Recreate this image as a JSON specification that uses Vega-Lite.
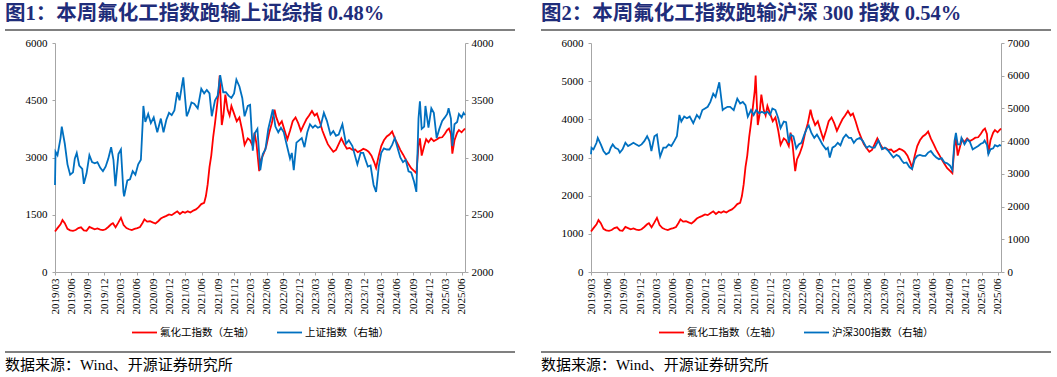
{
  "$schema": "https://vega.github.io/schema/vega-lite/v6.json",
  "padding": {"left": 5, "top": 3, "right": 3, "bottom": 3},
  "background": "white",
  "config": {
    "view": {"stroke": null},
    "font": "Liberation Serif, Noto Sans CJK SC",
    "axis": {"grid": false, "domainColor": "#A6A6A6", "tickColor": "#A6A6A6", "labelColor": "#000000", "labelFont": "Liberation Serif", "labelFontSize": 11, "tickSize": 3, "labelPadding": 3, "title": null},
    "axisX": {"labelOverlap": false, "labelAngle": 270, "format": "%Y/%m"},
    "axisY": {"format": "d"},
    "legend": {"orient": "bottom", "direction": "horizontal", "title": null, "symbolType": "stroke", "symbolSize": 625, "symbolStrokeWidth": 2, "labelFont": "Noto Sans CJK SC", "labelFontSize": 10.5, "labelColor": "#000000", "columnPadding": 18, "labelOffset": 2, "offset": 4, "layout": {"bottom": {"anchor": "middle"}}},
    "line": {"strokeWidth": 1.8, "interpolate": "linear"}
  },
  "datasets": {
    "fluor": [
      {"d":"2019/03/01","v":1060},{"d":"2019/03/15","v":1150},{"d":"2019/04/01","v":1250},{"d":"2019/04/12","v":1360},{"d":"2019/04/25","v":1280},{"d":"2019/05/10","v":1130},{"d":"2019/05/25","v":1090},{"d":"2019/06/10","v":1080},{"d":"2019/06/25","v":1100},{"d":"2019/07/10","v":1150},{"d":"2019/07/25","v":1170},{"d":"2019/08/10","v":1090},{"d":"2019/08/25","v":1080},{"d":"2019/09/10","v":1180},{"d":"2019/09/25","v":1150},{"d":"2019/10/10","v":1120},{"d":"2019/10/25","v":1140},{"d":"2019/11/10","v":1110},{"d":"2019/11/25","v":1100},{"d":"2019/12/10","v":1120},{"d":"2019/12/25","v":1180},
      {"d":"2020/01/10","v":1250},{"d":"2020/01/20","v":1280},{"d":"2020/02/04","v":1170},{"d":"2020/02/20","v":1300},{"d":"2020/03/05","v":1420},{"d":"2020/03/20","v":1230},{"d":"2020/04/05","v":1150},{"d":"2020/04/20","v":1120},{"d":"2020/05/05","v":1100},{"d":"2020/05/20","v":1130},{"d":"2020/06/05","v":1150},{"d":"2020/06/20","v":1180},{"d":"2020/07/05","v":1290},{"d":"2020/07/15","v":1380},{"d":"2020/07/30","v":1320},{"d":"2020/08/15","v":1330},{"d":"2020/08/30","v":1300},{"d":"2020/09/15","v":1270},{"d":"2020/09/30","v":1330},{"d":"2020/10/15","v":1400},{"d":"2020/10/30","v":1440},{"d":"2020/11/15","v":1470},{"d":"2020/11/30","v":1510},{"d":"2020/12/15","v":1490},{"d":"2020/12/30","v":1540},
      {"d":"2021/01/15","v":1590},{"d":"2021/01/30","v":1520},{"d":"2021/02/15","v":1580},{"d":"2021/02/28","v":1550},{"d":"2021/03/15","v":1590},{"d":"2021/03/30","v":1560},{"d":"2021/04/15","v":1610},{"d":"2021/04/30","v":1640},{"d":"2021/05/15","v":1700},{"d":"2021/05/30","v":1780},{"d":"2021/06/15","v":1810},{"d":"2021/06/25","v":1990},{"d":"2021/07/05","v":2300},{"d":"2021/07/15","v":2750},{"d":"2021/07/25","v":3050},{"d":"2021/08/05","v":3550},{"d":"2021/08/15","v":3900},{"d":"2021/08/25","v":4300},{"d":"2021/09/05","v":4750},{"d":"2021/09/10","v":5150},{"d":"2021/09/15","v":4600},{"d":"2021/09/22","v":3850},{"d":"2021/10/01","v":4100},{"d":"2021/10/12","v":4650},{"d":"2021/10/25","v":4250},{"d":"2021/11/05","v":4100},{"d":"2021/11/15","v":4350},{"d":"2021/11/30","v":4150},{"d":"2021/12/15","v":3950},{"d":"2021/12/30","v":4050},
      {"d":"2022/01/15","v":3700},{"d":"2022/01/28","v":3330},{"d":"2022/02/15","v":3500},{"d":"2022/02/28","v":3450},{"d":"2022/03/15","v":3300},{"d":"2022/03/25","v":3650},{"d":"2022/04/05","v":3350},{"d":"2022/04/20","v":2640},{"d":"2022/04/30","v":2950},{"d":"2022/05/15","v":3100},{"d":"2022/05/30","v":3300},{"d":"2022/06/15","v":3650},{"d":"2022/06/30","v":3900},{"d":"2022/07/15","v":4250},{"d":"2022/07/25","v":4050},{"d":"2022/08/10","v":3850},{"d":"2022/08/25","v":3950},{"d":"2022/09/10","v":3700},{"d":"2022/09/25","v":3480},{"d":"2022/10/10","v":3700},{"d":"2022/10/25","v":3950},{"d":"2022/11/10","v":4050},{"d":"2022/11/25","v":3900},{"d":"2022/12/10","v":3700},{"d":"2022/12/25","v":3850},
      {"d":"2023/01/10","v":4000},{"d":"2023/01/25","v":4100},{"d":"2023/02/10","v":4220},{"d":"2023/02/25","v":4100},{"d":"2023/03/10","v":4150},{"d":"2023/03/25","v":3950},{"d":"2023/04/10","v":3700},{"d":"2023/04/25","v":3520},{"d":"2023/05/10","v":3350},{"d":"2023/05/25","v":3250},{"d":"2023/06/10","v":3150},{"d":"2023/06/25","v":3200},{"d":"2023/07/10","v":3350},{"d":"2023/07/25","v":3500},{"d":"2023/08/10","v":3350},{"d":"2023/08/25","v":3230},{"d":"2023/09/10","v":3250},{"d":"2023/09/25","v":3200},{"d":"2023/10/10","v":3210},{"d":"2023/10/25","v":3140},{"d":"2023/11/10","v":3180},{"d":"2023/11/25","v":3230},{"d":"2023/12/10","v":3200},{"d":"2023/12/25","v":3150},
      {"d":"2024/01/10","v":3050},{"d":"2024/01/25","v":2880},{"d":"2024/02/05","v":2730},{"d":"2024/02/20","v":3050},{"d":"2024/03/05","v":3300},{"d":"2024/03/20","v":3450},{"d":"2024/04/05","v":3550},{"d":"2024/04/20","v":3600},{"d":"2024/05/05","v":3680},{"d":"2024/05/20","v":3500},{"d":"2024/06/05","v":3350},{"d":"2024/06/20","v":3200},{"d":"2024/07/05","v":3080},{"d":"2024/07/20","v":2950},{"d":"2024/08/05","v":2830},{"d":"2024/08/20","v":2720},{"d":"2024/09/05","v":2650},{"d":"2024/09/18","v":2590},{"d":"2024/09/30","v":3300},{"d":"2024/10/08","v":3500},{"d":"2024/10/18","v":3050},{"d":"2024/11/01","v":3300},{"d":"2024/11/12","v":3480},{"d":"2024/11/25","v":3400},{"d":"2024/12/10","v":3500},{"d":"2024/12/25","v":3430},
      {"d":"2025/01/10","v":3470},{"d":"2025/01/25","v":3520},{"d":"2025/02/10","v":3530},{"d":"2025/02/25","v":3620},{"d":"2025/03/10","v":3720},{"d":"2025/03/20","v":3760},{"d":"2025/03/31","v":3620},{"d":"2025/04/08","v":3100},{"d":"2025/04/20","v":3450},{"d":"2025/05/05","v":3650},{"d":"2025/05/15","v":3720},{"d":"2025/05/30","v":3660},{"d":"2025/06/10","v":3720},{"d":"2025/06/18","v":3760}
    ],
    "sse": [
      {"d":"2019/03/01","v":2760},{"d":"2019/03/04","v":3050},{"d":"2019/03/15","v":3020},{"d":"2019/04/01","v":3170},{"d":"2019/04/08","v":3270},{"d":"2019/04/25","v":3120},{"d":"2019/05/10","v":2940},{"d":"2019/05/25","v":2850},{"d":"2019/06/10","v":2870},{"d":"2019/06/20","v":2990},{"d":"2019/07/01","v":3040},{"d":"2019/07/15","v":2930},{"d":"2019/08/01","v":2900},{"d":"2019/08/10","v":2770},{"d":"2019/08/25","v":2860},{"d":"2019/09/10","v":3020},{"d":"2019/09/25","v":2960},{"d":"2019/10/10","v":2950},{"d":"2019/10/25","v":2960},{"d":"2019/11/10","v":2910},{"d":"2019/11/25","v":2880},{"d":"2019/12/10","v":2920},{"d":"2019/12/25","v":2990},
      {"d":"2020/01/10","v":3090},{"d":"2020/01/23","v":2980},{"d":"2020/02/03","v":2750},{"d":"2020/02/20","v":3030},{"d":"2020/03/05","v":3070},{"d":"2020/03/19","v":2700},{"d":"2020/03/23","v":2660},{"d":"2020/04/10","v":2800},{"d":"2020/04/25","v":2810},{"d":"2020/05/10","v":2880},{"d":"2020/05/25","v":2850},{"d":"2020/06/10","v":2940},{"d":"2020/06/25","v":2980},{"d":"2020/07/06","v":3330},{"d":"2020/07/09","v":3450},{"d":"2020/07/20","v":3310},{"d":"2020/08/05","v":3380},{"d":"2020/08/20","v":3300},{"d":"2020/09/05","v":3350},{"d":"2020/09/25","v":3220},{"d":"2020/10/15","v":3340},{"d":"2020/10/30","v":3220},{"d":"2020/11/15","v":3330},{"d":"2020/11/30","v":3390},{"d":"2020/12/15","v":3370},{"d":"2020/12/30","v":3410},
      {"d":"2021/01/15","v":3570},{"d":"2021/01/28","v":3500},{"d":"2021/02/18","v":3700},{"d":"2021/03/09","v":3360},{"d":"2021/03/20","v":3400},{"d":"2021/04/05","v":3480},{"d":"2021/04/20","v":3470},{"d":"2021/05/10","v":3430},{"d":"2021/05/30","v":3600},{"d":"2021/06/15","v":3560},{"d":"2021/06/30","v":3590},{"d":"2021/07/15","v":3560},{"d":"2021/07/28","v":3360},{"d":"2021/08/15","v":3500},{"d":"2021/08/30","v":3540},{"d":"2021/09/13","v":3720},{"d":"2021/09/30","v":3570},{"d":"2021/10/15","v":3570},{"d":"2021/10/30","v":3540},{"d":"2021/11/15","v":3520},{"d":"2021/11/30","v":3560},{"d":"2021/12/13","v":3680},{"d":"2021/12/30","v":3620},
      {"d":"2022/01/15","v":3520},{"d":"2022/01/28","v":3360},{"d":"2022/02/15","v":3450},{"d":"2022/02/28","v":3460},{"d":"2022/03/15","v":3060},{"d":"2022/03/25","v":3210},{"d":"2022/04/10","v":3250},{"d":"2022/04/26","v":2890},{"d":"2022/05/10","v":3030},{"d":"2022/05/25","v":3070},{"d":"2022/06/10","v":3250},{"d":"2022/06/25","v":3350},{"d":"2022/07/05","v":3420},{"d":"2022/07/20","v":3270},{"d":"2022/08/05","v":3220},{"d":"2022/08/20","v":3260},{"d":"2022/09/05","v":3220},{"d":"2022/09/20","v":3120},{"d":"2022/10/10","v":2990},{"d":"2022/10/20","v":3040},{"d":"2022/10/31","v":2890},{"d":"2022/11/15","v":3130},{"d":"2022/11/30","v":3150},{"d":"2022/12/15","v":3170},{"d":"2022/12/30","v":3090},
      {"d":"2023/01/15","v":3220},{"d":"2023/01/30","v":3290},{"d":"2023/02/15","v":3260},{"d":"2023/02/28","v":3280},{"d":"2023/03/15","v":3260},{"d":"2023/03/30","v":3270},{"d":"2023/04/18","v":3390},{"d":"2023/05/05","v":3320},{"d":"2023/05/25","v":3200},{"d":"2023/06/10","v":3230},{"d":"2023/06/25","v":3190},{"d":"2023/07/10","v":3200},{"d":"2023/07/31","v":3290},{"d":"2023/08/20","v":3120},{"d":"2023/09/05","v":3150},{"d":"2023/09/25","v":3100},{"d":"2023/10/23","v":2940},{"d":"2023/11/10","v":3040},{"d":"2023/11/25","v":3040},{"d":"2023/12/10","v":2970},{"d":"2023/12/21","v":2920},
      {"d":"2024/01/05","v":2930},{"d":"2024/01/22","v":2760},{"d":"2024/02/05","v":2700},{"d":"2024/02/20","v":2920},{"d":"2024/03/05","v":3040},{"d":"2024/03/20","v":3080},{"d":"2024/04/05","v":3070},{"d":"2024/04/20","v":3070},{"d":"2024/05/05","v":3110},{"d":"2024/05/20","v":3170},{"d":"2024/06/05","v":3080},{"d":"2024/06/20","v":3000},{"d":"2024/07/05","v":2960},{"d":"2024/07/20","v":2980},{"d":"2024/08/05","v":2880},{"d":"2024/08/20","v":2870},{"d":"2024/09/05","v":2790},{"d":"2024/09/18","v":2700},{"d":"2024/09/30","v":3340},{"d":"2024/10/08","v":3490},{"d":"2024/10/18","v":3250},{"d":"2024/11/01","v":3270},{"d":"2024/11/08","v":3450},{"d":"2024/11/25","v":3260},{"d":"2024/12/11","v":3430},{"d":"2024/12/25","v":3390},
      {"d":"2025/01/10","v":3170},{"d":"2025/01/25","v":3250},{"d":"2025/02/10","v":3320},{"d":"2025/02/25","v":3350},{"d":"2025/03/10","v":3380},{"d":"2025/03/18","v":3430},{"d":"2025/03/31","v":3340},{"d":"2025/04/08","v":3100},{"d":"2025/04/20","v":3290},{"d":"2025/05/05","v":3310},{"d":"2025/05/15","v":3380},{"d":"2025/05/30","v":3350},{"d":"2025/06/10","v":3390},{"d":"2025/06/18","v":3370}
    ],
    "csi": [
      {"d":"2019/03/01","v":3600},{"d":"2019/03/04","v":3800},{"d":"2019/03/15","v":3750},{"d":"2019/04/01","v":3950},{"d":"2019/04/08","v":4100},{"d":"2019/04/25","v":3900},{"d":"2019/05/10","v":3700},{"d":"2019/05/25","v":3600},{"d":"2019/06/10","v":3650},{"d":"2019/06/20","v":3800},{"d":"2019/07/01","v":3900},{"d":"2019/07/15","v":3800},{"d":"2019/08/01","v":3750},{"d":"2019/08/10","v":3650},{"d":"2019/08/25","v":3750},{"d":"2019/09/10","v":3950},{"d":"2019/09/25","v":3850},{"d":"2019/10/10","v":3900},{"d":"2019/10/25","v":3950},{"d":"2019/11/10","v":3900},{"d":"2019/11/25","v":3850},{"d":"2019/12/10","v":3900},{"d":"2019/12/25","v":4000},
      {"d":"2020/01/10","v":4150},{"d":"2020/01/23","v":4000},{"d":"2020/02/03","v":3700},{"d":"2020/02/20","v":4150},{"d":"2020/03/05","v":4200},{"d":"2020/03/19","v":3650},{"d":"2020/03/23","v":3530},{"d":"2020/04/10","v":3800},{"d":"2020/04/25","v":3800},{"d":"2020/05/10","v":3900},{"d":"2020/05/25","v":3850},{"d":"2020/06/10","v":4000},{"d":"2020/06/25","v":4150},{"d":"2020/07/06","v":4650},{"d":"2020/07/09","v":4800},{"d":"2020/07/20","v":4600},{"d":"2020/08/05","v":4750},{"d":"2020/08/20","v":4700},{"d":"2020/09/05","v":4750},{"d":"2020/09/25","v":4550},{"d":"2020/10/15","v":4800},{"d":"2020/10/30","v":4700},{"d":"2020/11/15","v":4950},{"d":"2020/11/30","v":5000},{"d":"2020/12/15","v":5050},{"d":"2020/12/30","v":5200},
      {"d":"2021/01/15","v":5450},{"d":"2021/01/28","v":5350},{"d":"2021/02/18","v":5800},{"d":"2021/03/09","v":4950},{"d":"2021/03/20","v":5000},{"d":"2021/04/05","v":5050},{"d":"2021/04/20","v":5050},{"d":"2021/05/10","v":4950},{"d":"2021/05/30","v":5300},{"d":"2021/06/15","v":5150},{"d":"2021/06/30","v":5200},{"d":"2021/07/15","v":5100},{"d":"2021/07/28","v":4750},{"d":"2021/08/15","v":4950},{"d":"2021/08/30","v":4800},{"d":"2021/09/13","v":4950},{"d":"2021/09/30","v":4850},{"d":"2021/10/15","v":4900},{"d":"2021/10/30","v":4850},{"d":"2021/11/15","v":4900},{"d":"2021/11/30","v":4800},{"d":"2021/12/13","v":5000},{"d":"2021/12/30","v":4950},
      {"d":"2022/01/15","v":4700},{"d":"2022/01/28","v":4400},{"d":"2022/02/15","v":4600},{"d":"2022/02/28","v":4580},{"d":"2022/03/15","v":3950},{"d":"2022/03/25","v":4200},{"d":"2022/04/10","v":4150},{"d":"2022/04/26","v":3780},{"d":"2022/05/10","v":3900},{"d":"2022/05/25","v":3950},{"d":"2022/06/10","v":4200},{"d":"2022/06/25","v":4400},{"d":"2022/07/05","v":4480},{"d":"2022/07/20","v":4250},{"d":"2022/08/05","v":4100},{"d":"2022/08/20","v":4200},{"d":"2022/09/05","v":4050},{"d":"2022/09/20","v":3900},{"d":"2022/10/10","v":3750},{"d":"2022/10/20","v":3800},{"d":"2022/10/31","v":3500},{"d":"2022/11/15","v":3800},{"d":"2022/11/30","v":3850},{"d":"2022/12/15","v":3950},{"d":"2022/12/30","v":3870},
      {"d":"2023/01/15","v":4100},{"d":"2023/01/30","v":4200},{"d":"2023/02/15","v":4100},{"d":"2023/02/28","v":4100},{"d":"2023/03/15","v":3950},{"d":"2023/03/30","v":4050},{"d":"2023/04/18","v":4100},{"d":"2023/05/05","v":4000},{"d":"2023/05/25","v":3800},{"d":"2023/06/10","v":3850},{"d":"2023/06/25","v":3800},{"d":"2023/07/10","v":3800},{"d":"2023/07/31","v":4020},{"d":"2023/08/20","v":3750},{"d":"2023/09/05","v":3800},{"d":"2023/09/25","v":3700},{"d":"2023/10/23","v":3500},{"d":"2023/11/10","v":3580},{"d":"2023/11/25","v":3530},{"d":"2023/12/10","v":3400},{"d":"2023/12/21","v":3330},
      {"d":"2024/01/05","v":3350},{"d":"2024/01/22","v":3200},{"d":"2024/02/05","v":3150},{"d":"2024/02/20","v":3450},{"d":"2024/03/05","v":3550},{"d":"2024/03/20","v":3580},{"d":"2024/04/05","v":3550},{"d":"2024/04/20","v":3550},{"d":"2024/05/05","v":3650},{"d":"2024/05/20","v":3700},{"d":"2024/06/05","v":3580},{"d":"2024/06/20","v":3500},{"d":"2024/07/05","v":3450},{"d":"2024/07/20","v":3480},{"d":"2024/08/05","v":3350},{"d":"2024/08/20","v":3320},{"d":"2024/09/05","v":3250},{"d":"2024/09/18","v":3110},{"d":"2024/09/30","v":4000},{"d":"2024/10/08","v":4250},{"d":"2024/10/18","v":3900},{"d":"2024/11/01","v":3900},{"d":"2024/11/08","v":4100},{"d":"2024/11/25","v":3900},{"d":"2024/12/11","v":4050},{"d":"2024/12/25","v":3980},
      {"d":"2025/01/10","v":3750},{"d":"2025/01/25","v":3800},{"d":"2025/02/10","v":3850},{"d":"2025/02/25","v":3920},{"d":"2025/03/10","v":3950},{"d":"2025/03/18","v":4020},{"d":"2025/03/31","v":3890},{"d":"2025/04/08","v":3600},{"d":"2025/04/20","v":3750},{"d":"2025/05/05","v":3780},{"d":"2025/05/15","v":3880},{"d":"2025/05/30","v":3840},{"d":"2025/06/10","v":3880},{"d":"2025/06/18","v":3860}
    ]
  },
  "spacing": 26,
  "resolve": {"scale": {"color": "independent"}, "legend": {"color": "independent"}},
  "hconcat": [
    {
      "spacing": 11,
      "resolve": {"scale": {"color": "independent"}, "legend": {"color": "independent"}},
      "vconcat": [
        {
          "spacing": 12, "bounds": "flush", "center": true,
          "resolve": {"scale": {"color": "independent"}, "legend": {"color": "independent"}},
          "vconcat": [
            {
              "width": 510, "height": 2,
              "view": {"fill": "#808080", "stroke": null},
              "data": {"values": [{}]},
              "mark": {"type": "point", "opacity": 0},
              "title": {"text": "图1：本周氟化工指数跑输上证综指 0.48%", "anchor": "start", "fontSize": 20.5, "fontWeight": "bold", "color": "#1F2D7A", "offset": 3, "font": "Liberation Serif, Noto Sans CJK SC"}
            },
            {
              "width": 410, "height": 229,
              "encoding": {
                "x": {"field": "d", "type": "temporal",
                  "scale": {"domain": [{"year": 2019, "month": 3, "date": 1}, {"year": 2025, "month": 6, "date": 18}]},
                  "axis": {"format": "%Y/%m", "labelAngle": 270, "labelOverlap": false,
                    "values": [{"year":2019,"month":3,"date":1},{"year":2019,"month":6,"date":1},{"year":2019,"month":9,"date":1},{"year":2019,"month":12,"date":1},{"year":2020,"month":3,"date":1},{"year":2020,"month":6,"date":1},{"year":2020,"month":9,"date":1},{"year":2020,"month":12,"date":1},{"year":2021,"month":3,"date":1},{"year":2021,"month":6,"date":1},{"year":2021,"month":9,"date":1},{"year":2021,"month":12,"date":1},{"year":2022,"month":3,"date":1},{"year":2022,"month":6,"date":1},{"year":2022,"month":9,"date":1},{"year":2022,"month":12,"date":1},{"year":2023,"month":3,"date":1},{"year":2023,"month":6,"date":1},{"year":2023,"month":9,"date":1},{"year":2023,"month":12,"date":1},{"year":2024,"month":3,"date":1},{"year":2024,"month":6,"date":1},{"year":2024,"month":9,"date":1},{"year":2024,"month":12,"date":1},{"year":2025,"month":3,"date":1},{"year":2025,"month":6,"date":1}]}}
              },
              "layer": [
                {
                  "data": {"name": "fluor"},
                  "mark": {"type": "line"},
                  "encoding": {
                    "y": {"field": "v", "type": "quantitative", "scale": {"domain": [0, 6000], "nice": false}, "axis": {"values": [0, 1500, 3000, 4500, 6000], "labelPadding": 5}},
                    "color": {"datum": "氟化工指数（左轴）", "type": "nominal", "scale": {"domain": ["氟化工指数（左轴）", "上证指数（右轴）"], "range": ["#FF0000", "#0070C0"]}}
                  }
                },
                {
                  "data": {"name": "sse"},
                  "mark": {"type": "line"},
                  "encoding": {
                    "y": {"field": "v", "type": "quantitative", "scale": {"domain": [2000, 4000], "nice": false}, "axis": {"orient": "right", "values": [2000, 2500, 3000, 3500, 4000]}},
                    "color": {"datum": "上证指数（右轴）", "type": "nominal"}
                  }
                }
              ],
              "resolve": {"scale": {"y": "independent"}}
            }
          ]
        },
        {
          "width": 510, "height": 2,
          "view": {"fill": "#808080", "stroke": null},
          "data": {"values": [{}]},
          "mark": {"type": "point", "opacity": 0},
          "title": {"text": "数据来源：Wind、开源证券研究所", "orient": "bottom", "anchor": "start", "fontSize": 15, "fontWeight": "normal", "color": "#000000", "offset": 3, "font": "Liberation Serif, Noto Sans CJK SC"}
        }
      ]
    },
    {
      "spacing": 11,
      "resolve": {"scale": {"color": "independent"}, "legend": {"color": "independent"}},
      "vconcat": [
        {
          "spacing": 12, "bounds": "flush", "center": true,
          "resolve": {"scale": {"color": "independent"}, "legend": {"color": "independent"}},
          "vconcat": [
            {
              "width": 510, "height": 2,
              "view": {"fill": "#808080", "stroke": null},
              "data": {"values": [{}]},
              "mark": {"type": "point", "opacity": 0},
              "title": {"text": "图2：本周氟化工指数跑输沪深 300 指数 0.54%", "anchor": "start", "fontSize": 20.5, "fontWeight": "bold", "color": "#1F2D7A", "offset": 3, "font": "Liberation Serif, Noto Sans CJK SC"}
            },
            {
              "width": 410, "height": 229,
              "encoding": {
                "x": {"field": "d", "type": "temporal",
                  "scale": {"domain": [{"year": 2019, "month": 3, "date": 1}, {"year": 2025, "month": 6, "date": 18}]},
                  "axis": {"format": "%Y/%m", "labelAngle": 270, "labelOverlap": false,
                    "values": [{"year":2019,"month":3,"date":1},{"year":2019,"month":6,"date":1},{"year":2019,"month":9,"date":1},{"year":2019,"month":12,"date":1},{"year":2020,"month":3,"date":1},{"year":2020,"month":6,"date":1},{"year":2020,"month":9,"date":1},{"year":2020,"month":12,"date":1},{"year":2021,"month":3,"date":1},{"year":2021,"month":6,"date":1},{"year":2021,"month":9,"date":1},{"year":2021,"month":12,"date":1},{"year":2022,"month":3,"date":1},{"year":2022,"month":6,"date":1},{"year":2022,"month":9,"date":1},{"year":2022,"month":12,"date":1},{"year":2023,"month":3,"date":1},{"year":2023,"month":6,"date":1},{"year":2023,"month":9,"date":1},{"year":2023,"month":12,"date":1},{"year":2024,"month":3,"date":1},{"year":2024,"month":6,"date":1},{"year":2024,"month":9,"date":1},{"year":2024,"month":12,"date":1},{"year":2025,"month":3,"date":1},{"year":2025,"month":6,"date":1}]}}
              },
              "layer": [
                {
                  "data": {"name": "fluor"},
                  "mark": {"type": "line"},
                  "encoding": {
                    "y": {"field": "v", "type": "quantitative", "scale": {"domain": [0, 6000], "nice": false}, "axis": {"values": [0, 1000, 2000, 3000, 4000, 5000, 6000], "labelPadding": 5}},
                    "color": {"datum": "氟化工指数（左轴）", "type": "nominal", "scale": {"domain": ["氟化工指数（左轴）", "沪深300指数（右轴）"], "range": ["#FF0000", "#0070C0"]}}
                  }
                },
                {
                  "data": {"name": "csi"},
                  "mark": {"type": "line"},
                  "encoding": {
                    "y": {"field": "v", "type": "quantitative", "scale": {"domain": [0, 7000], "nice": false}, "axis": {"orient": "right", "values": [0, 1000, 2000, 3000, 4000, 5000, 6000, 7000]}},
                    "color": {"datum": "沪深300指数（右轴）", "type": "nominal"}
                  }
                }
              ],
              "resolve": {"scale": {"y": "independent"}}
            }
          ]
        },
        {
          "width": 510, "height": 2,
          "view": {"fill": "#808080", "stroke": null},
          "data": {"values": [{}]},
          "mark": {"type": "point", "opacity": 0},
          "title": {"text": "数据来源：Wind、开源证券研究所", "orient": "bottom", "anchor": "start", "fontSize": 15, "fontWeight": "normal", "color": "#000000", "offset": 3, "font": "Liberation Serif, Noto Sans CJK SC"}
        }
      ]
    }
  ]
}
